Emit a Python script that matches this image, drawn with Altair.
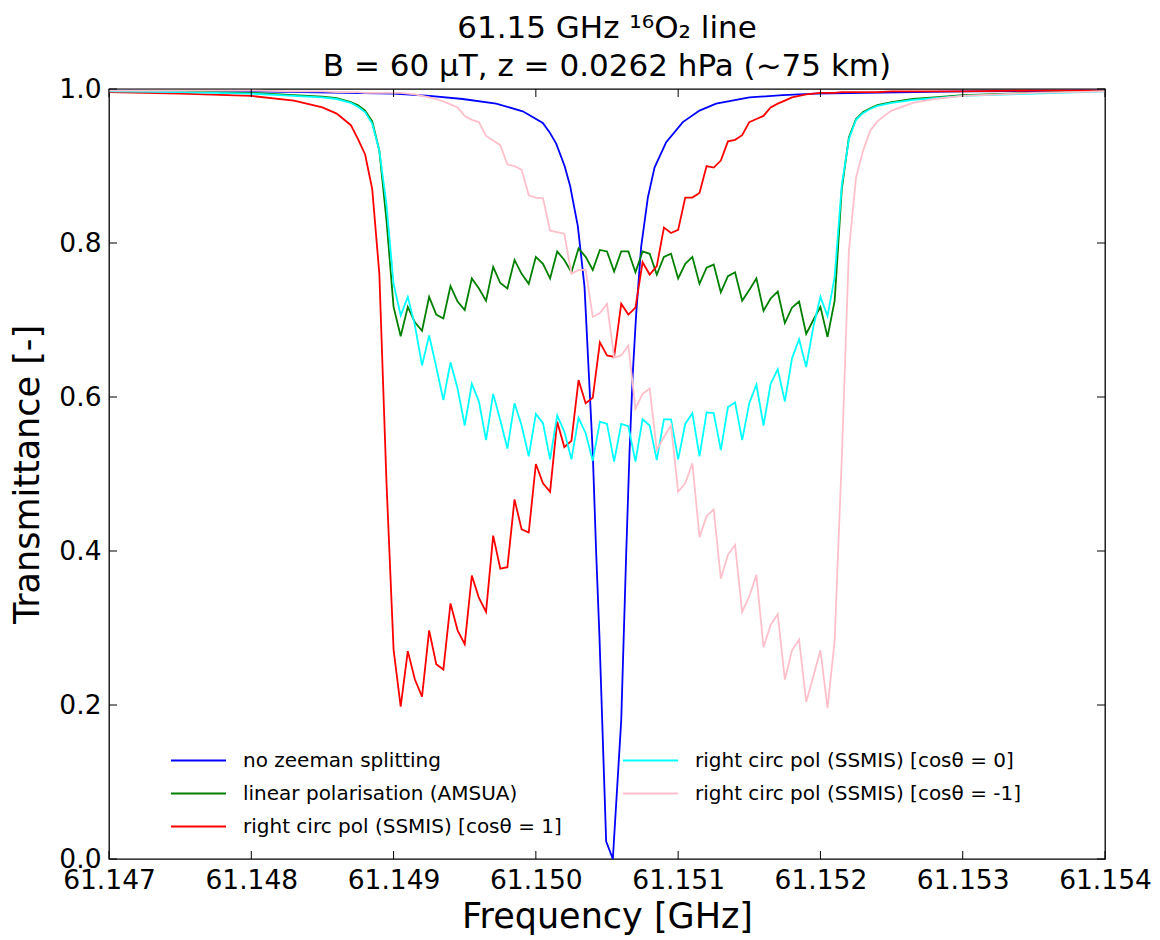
import altair as alt
import pandas as pd

# ---------------- data ----------------
NAMES = [
    "no zeeman splitting",
    "linear polarisation (AMSUA)",
    "right circ pol (SSMIS) [cosθ = 1]",
    "right circ pol (SSMIS) [cosθ = 0]",
    "right circ pol (SSMIS) [cosθ = -1]",
]
COLORS = ["#0000ff", "#008000", "#ff0000", "#00ffff", "#ffc0cb"]

# unsplit line
BLUE_FREQ = [61.147, 61.148, 61.149, 61.149252, 61.149486, 61.149721, 61.149908,
             61.150049, 61.150096, 61.150143, 61.150202, 61.150241, 61.150272,
             61.150295, 61.150319, 61.150342, 61.150377, 61.150400, 61.150424,
             61.150447, 61.150466, 61.150494, 61.150541, 61.150600, 61.150635,
             61.150658, 61.150681, 61.150705, 61.150740, 61.150787, 61.150834,
             61.150916, 61.151033, 61.151150, 61.151267, 61.151501, 61.151735,
             61.151970, 61.153, 61.154]
BLUE_VAL = [0.998, 0.997, 0.994, 0.991, 0.987, 0.981, 0.971, 0.956, 0.944, 0.929,
            0.900, 0.874, 0.844, 0.822, 0.782, 0.743, 0.613, 0.527, 0.397, 0.289,
            0.181, 0.023, 0.0, 0.18, 0.397, 0.527, 0.630, 0.708, 0.795, 0.859,
            0.898, 0.931, 0.957, 0.972, 0.981, 0.989, 0.992, 0.994, 0.997, 0.998]

# wings (shared sampling for the Zeeman-split curves)
LEFT_FREQ = [61.147, 61.1475, 61.148, 61.1483, 61.1485, 61.1486, 61.1487,
             61.14875, 61.1488, 61.14885, 61.1489, 61.14895, 61.149]
RIGHT_FREQ = [61.1521, 61.15215, 61.1522, 61.15225, 61.1523, 61.15235, 61.1524,
              61.1525, 61.15265, 61.1528, 61.153, 61.1535, 61.154]

# central Zeeman band sampling
MID_FREQ = [61.14905, 61.14910, 61.14915, 61.14920, 61.14925, 61.14930, 61.14935,
            61.14940, 61.14945, 61.14950, 61.14955, 61.14960, 61.14965, 61.14970,
            61.14975, 61.14980, 61.14985, 61.14990, 61.14995, 61.15000, 61.15005,
            61.15010, 61.15015, 61.15020, 61.15025, 61.15030, 61.15035, 61.15040,
            61.15045, 61.15050, 61.15055, 61.15060, 61.15065, 61.15070, 61.15075,
            61.15080, 61.15085, 61.15090, 61.15095, 61.15100, 61.15105, 61.15110,
            61.15115, 61.15120, 61.15125, 61.15130, 61.15135, 61.15140, 61.15145,
            61.15150, 61.15155, 61.15160, 61.15165, 61.15170, 61.15175, 61.15180,
            61.15185, 61.15190, 61.15195, 61.15200, 61.15205]

GREEN_LEFT = [0.998, 0.997, 0.995, 0.992, 0.990, 0.988, 0.983, 0.979, 0.972, 0.958, 0.92, 0.83, 0.717]
GREEN_MID = [0.679, 0.717, 0.697, 0.686, 0.730, 0.707, 0.702, 0.744, 0.724, 0.713,
             0.754, 0.741, 0.725, 0.769, 0.748, 0.741, 0.778, 0.760, 0.747, 0.782,
             0.773, 0.754, 0.789, 0.778, 0.762, 0.793, 0.782, 0.765, 0.791, 0.789,
             0.763, 0.789, 0.789, 0.762, 0.789, 0.786, 0.759, 0.782, 0.786, 0.754,
             0.773, 0.782, 0.747, 0.768, 0.772, 0.736, 0.757, 0.762, 0.725, 0.739,
             0.754, 0.712, 0.728, 0.737, 0.696, 0.716, 0.724, 0.682, 0.700, 0.717,
             0.678]
GREEN_RIGHT = [0.725, 0.87, 0.937, 0.961, 0.970, 0.975, 0.979, 0.983, 0.987, 0.989, 0.992, 0.995, 0.998]

RED_LEFT = [0.996, 0.994, 0.991, 0.985, 0.976, 0.968, 0.953, 0.935, 0.915, 0.87, 0.76, 0.49, 0.272]
RED_MID = [0.198, 0.270, 0.233, 0.211, 0.297, 0.253, 0.246, 0.332, 0.297, 0.279,
           0.368, 0.339, 0.321, 0.420, 0.377, 0.379, 0.467, 0.428, 0.424, 0.513,
           0.488, 0.477, 0.568, 0.535, 0.543, 0.622, 0.592, 0.599, 0.671, 0.654,
           0.652, 0.721, 0.707, 0.716, 0.775, 0.759, 0.770, 0.820, 0.813, 0.817,
           0.859, 0.859, 0.865, 0.900, 0.898, 0.907, 0.932, 0.934, 0.940, 0.957,
           0.961, 0.965, 0.976, 0.981, 0.985, 0.989, 0.991, 0.993, 0.994, 0.995,
           0.995]
RED_RIGHT = [0.995, 0.996, 0.996, 0.996, 0.996, 0.996, 0.996, 0.997, 0.997, 0.997, 0.997, 0.998, 0.998]

CYAN_LEFT = [0.997, 0.996, 0.994, 0.991, 0.989, 0.987, 0.982, 0.977, 0.970, 0.955, 0.92, 0.85, 0.747]
CYAN_MID = [0.706, 0.730, 0.693, 0.641, 0.680, 0.639, 0.596, 0.645, 0.611, 0.563,
            0.617, 0.594, 0.544, 0.604, 0.570, 0.533, 0.592, 0.563, 0.523, 0.578,
            0.566, 0.519, 0.576, 0.555, 0.519, 0.573, 0.553, 0.517, 0.568, 0.565,
            0.516, 0.565, 0.562, 0.516, 0.571, 0.563, 0.518, 0.571, 0.571, 0.519,
            0.565, 0.579, 0.523, 0.580, 0.579, 0.531, 0.587, 0.593, 0.544, 0.592,
            0.616, 0.563, 0.617, 0.636, 0.594, 0.650, 0.675, 0.639, 0.691, 0.730,
            0.705]
CYAN_RIGHT = [0.756, 0.875, 0.935, 0.960, 0.969, 0.974, 0.978, 0.982, 0.986, 0.988, 0.991, 0.994, 0.997]

PINK_LEFT = [0.998, 0.998, 0.998, 0.997, 0.997, 0.996, 0.996, 0.996, 0.995, 0.995, 0.995, 0.995, 0.995]
PINK_MID = [0.995, 0.994, 0.993, 0.991, 0.989, 0.987, 0.984, 0.980, 0.976, 0.965,
            0.960, 0.957, 0.939, 0.933, 0.927, 0.902, 0.900, 0.895, 0.862, 0.859,
            0.858, 0.816, 0.814, 0.812, 0.760, 0.765, 0.765, 0.704, 0.709, 0.721,
            0.651, 0.654, 0.667, 0.585, 0.604, 0.611, 0.531, 0.548, 0.563, 0.477,
            0.488, 0.514, 0.418, 0.445, 0.454, 0.364, 0.395, 0.408, 0.321, 0.341,
            0.369, 0.275, 0.304, 0.318, 0.233, 0.271, 0.285, 0.204, 0.237, 0.271,
            0.196]
PINK_RIGHT = [0.284, 0.52, 0.79, 0.885, 0.92, 0.946, 0.958, 0.972, 0.982, 0.987, 0.991, 0.995, 0.997]

X_TICKS = [61.147, 61.148, 61.149, 61.150, 61.151, 61.152, 61.153, 61.154]
Y_TICKS = [0.0, 0.2, 0.4, 0.6, 0.8, 1.0]

# ---------------- build table ----------------
rows = []
for f, v in zip(BLUE_FREQ, BLUE_VAL):
    rows.append({"series": NAMES[0], "freq": f, "T": v})
split = [
    (NAMES[1], GREEN_LEFT, GREEN_MID, GREEN_RIGHT),
    (NAMES[2], RED_LEFT, RED_MID, RED_RIGHT),
    (NAMES[3], CYAN_LEFT, CYAN_MID, CYAN_RIGHT),
    (NAMES[4], PINK_LEFT, PINK_MID, PINK_RIGHT),
]
for name, lv, mv, rv in split:
    for f, v in zip(LEFT_FREQ + MID_FREQ + RIGHT_FREQ, lv + mv + rv):
        rows.append({"series": name, "freq": f, "T": v})
df = pd.DataFrame(rows)

W, H = 996, 770
FONT = "DejaVu Sans"

xscale = alt.Scale(domain=[61.147, 61.154], nice=False, zero=False)
yscale = alt.Scale(domain=[0, 1], nice=False)

# Vega fills a multi-column legend column by column, like matplotlib
cscale = alt.Scale(domain=NAMES, range=COLORS)
legend = alt.Legend(
    title=None, orient="none", legendX=61, legendY=656, columns=2,
    symbolType="stroke", symbolSize=3025, symbolStrokeWidth=1.8,
    labelFontSize=20, labelFont=FONT, labelColor="black", labelOffset=16,
    labelLimit=600, clipHeight=31, rowPadding=2, columnPadding=60, padding=0,
)

xenc = alt.X("freq:Q", scale=xscale, title="Frequency [GHz]",
             axis=alt.Axis(values=X_TICKS, format=".3f", labelFlush=False,
                           labelOverlap=False))
yenc = alt.Y("T:Q", scale=yscale, title="Transmittance [-]",
             axis=alt.Axis(values=Y_TICKS, format=".1f"))

layers = []
for name in NAMES:
    layers.append(
        alt.Chart(df)
        .transform_filter(alt.datum.series == name)
        .mark_line(strokeWidth=1.8)
        .encode(x=xenc, y=yenc,
                color=alt.Color("series:N", scale=cscale, legend=legend))
    )

xt = pd.DataFrame({"freq": X_TICKS})
yt = pd.DataFrame({"T": Y_TICKS})
ticks = [
    alt.Chart(xt).mark_rule(color="black", strokeWidth=1).encode(x=xenc, y=alt.value(0), y2=alt.value(8)),
    alt.Chart(xt).mark_rule(color="black", strokeWidth=1).encode(x=xenc, y=alt.value(H), y2=alt.value(H - 8)),
    alt.Chart(yt).mark_rule(color="black", strokeWidth=1).encode(y=yenc, x=alt.value(0), x2=alt.value(8)),
    alt.Chart(yt).mark_rule(color="black", strokeWidth=1).encode(y=yenc, x=alt.value(W), x2=alt.value(W - 8)),
]

chart = (
    alt.layer(*layers, *ticks)
    .properties(
        width=W, height=H,
        autosize=alt.AutoSizeParams(type="none"),
        padding={"left": 109, "top": 89, "right": 55, "bottom": 81},
        background="white",
        title=alt.TitleParams(
            text=["61.15 GHz  ¹⁶O₂ line", "B = 60 μT, z = 0.0262 hPa (~75 km)"],
            font=FONT, fontSize=31, fontWeight="normal", color="black",
            anchor="middle", offset=-7, lineHeight=38,
        ),
    )
    .configure_view(stroke="black", strokeWidth=1.3)
    .configure_axis(
        labelFont=FONT, labelFontSize=26.5, labelColor="black",
        titleFont=FONT, titleFontSize=35, titleFontWeight="normal", titleColor="black",
        domain=False, ticks=False, grid=False, labelPadding=8,
    )
    .configure_axisX(titlePadding=6)
    .configure_axisY(titlePadding=13)
)

chart.save("out.html", embed_options={"renderer": "svg", "actions": False})
